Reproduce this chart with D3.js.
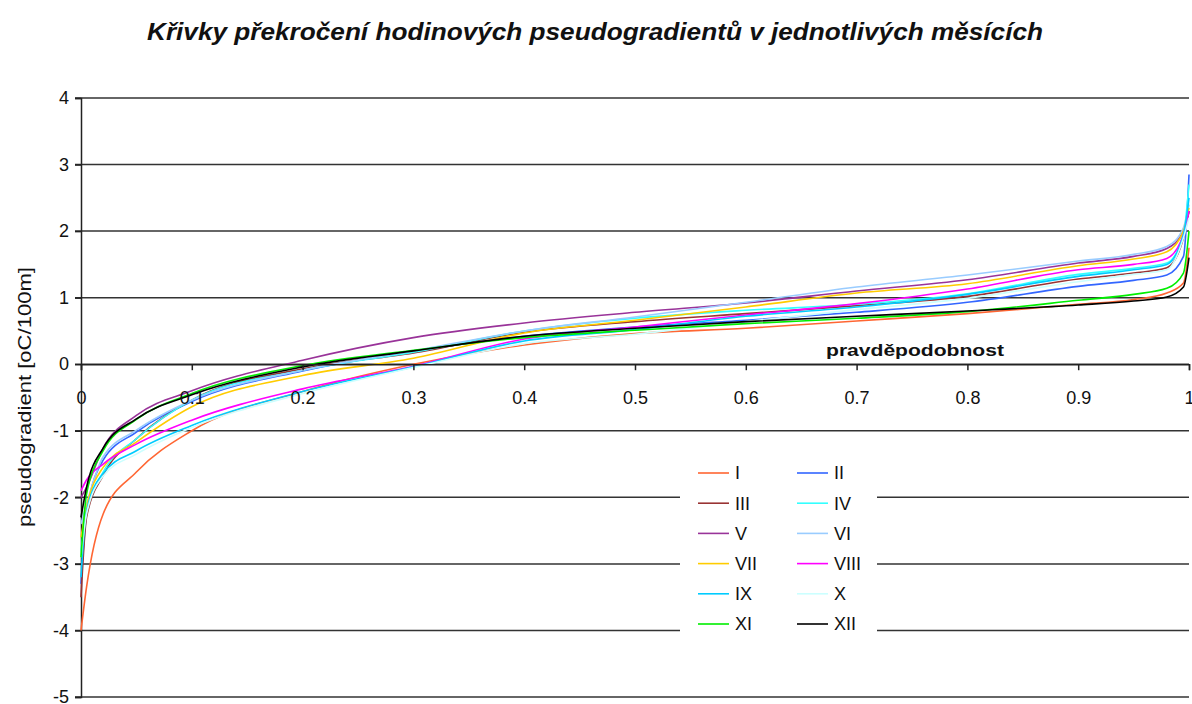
<!DOCTYPE html>
<html>
<head>
<meta charset="utf-8">
<script src="https://cdn.jsdelivr.net/npm/d3@7"></script>
<style>
  body { margin: 0; background: #fff; }
  text { font-family: "Liberation Sans", Arial, sans-serif; fill: #111; }
</style>
</head>
<body>
<svg width="1192" height="704"></svg>
<script>
// probability grid (x) shared by all months
var probs = [0, 0.005, 0.02, 0.05, 0.1, 0.2, 0.3, 0.4, 0.5, 0.6, 0.7, 0.8, 0.9, 0.95, 0.98, 0.995, 1];

var months = ["I", "II", "III", "IV", "V", "VI", "VII", "VIII", "IX", "X", "XI", "XII"];
var colors = ["#ff6633", "#3366ff", "#993333", "#33ffff", "#993399", "#99ccff",
              "#ffcc00", "#ff00ff", "#00ccff", "#ccffff", "#00ee00", "#000000"];

var sI    = [-4.0, -3.35, -2.25, -1.62, -1.0, -0.41, 0.0, 0.29, 0.46, 0.54, 0.65, 0.76, 0.9, 0.97, 1.07, 1.22, 1.75];
var sII   = [-3.3, -2.25, -1.44, -1.02, -0.56, -0.1, 0.19, 0.42, 0.56, 0.66, 0.78, 0.93, 1.17, 1.26, 1.34, 1.62, 2.85];
var sIII  = [-3.5, -2.3, -1.67, -1.12, -0.54, -0.07, 0.17, 0.48, 0.64, 0.76, 0.88, 1.02, 1.28, 1.37, 1.45, 1.9, 2.3];
var sIV   = [-2.8, -2.2, -1.62, -1.12, -0.54, -0.09, 0.18, 0.5, 0.69, 0.81, 0.9, 1.06, 1.35, 1.44, 1.52, 1.95, 2.7];
var sV    = [-2.0, -1.85, -1.26, -0.77, -0.4, 0.06, 0.4, 0.62, 0.78, 0.92, 1.1, 1.27, 1.52, 1.62, 1.74, 2.0, 2.3];
var sVI   = [-2.4, -2.1, -1.39, -0.99, -0.54, -0.09, 0.2, 0.5, 0.71, 0.93, 1.16, 1.34, 1.55, 1.65, 1.77, 2.05, 2.4];
var sVII  = [-2.6, -2.15, -1.55, -1.17, -0.64, -0.17, 0.09, 0.47, 0.66, 0.86, 1.07, 1.21, 1.48, 1.58, 1.69, 2.0, 2.35];
var sVIII = [-1.9, -1.74, -1.5, -1.2, -0.84, -0.37, -0.03, 0.38, 0.56, 0.74, 0.91, 1.13, 1.42, 1.5, 1.59, 1.95, 2.3];
var sIX   = [-3.2, -2.2, -1.64, -1.3, -0.92, -0.41, -0.04, 0.35, 0.52, 0.72, 0.86, 1.05, 1.32, 1.42, 1.5, 1.95, 2.5];
var sX    = [-2.9, -2.25, -1.68, -1.35, -0.95, -0.44, -0.05, 0.31, 0.45, 0.64, 0.82, 0.99, 1.24, 1.35, 1.42, 1.9, 2.2];
var sXI   = [-2.9, -1.95, -1.3, -0.83, -0.44, -0.02, 0.21, 0.4, 0.51, 0.61, 0.69, 0.79, 0.96, 1.05, 1.14, 1.37, 2.0];
var sXII  = [-2.3, -1.85, -1.26, -0.82, -0.46, -0.04, 0.2, 0.42, 0.54, 0.64, 0.72, 0.8, 0.89, 0.95, 1.01, 1.16, 1.6];

var series = [sI, sII, sIII, sIV, sV, sVI, sVII, sVIII, sIX, sX, sXI, sXII];

var xTicks = [0, 0.1, 0.2, 0.3, 0.4, 0.5, 0.6, 0.7, 0.8, 0.9, 1];
var yTicks = [4, 3, 2, 1, 0, -1, -2, -3, -4, -5];

var svg = d3.select("svg");

var x = d3.scaleLinear().domain([0, 1]).range([81, 1189]);
var y = d3.scaleLinear().domain([-5, 4]).range([697, 98]);

// title
svg.append("text")
    .attr("x", 595).attr("y", 40)
    .attr("text-anchor", "middle")
    .attr("textLength", 896).attr("lengthAdjust", "spacingAndGlyphs")
    .style("font-size", "23px").style("font-weight", "bold").style("font-style", "italic")
    .text("Křivky překročení hodinových pseudogradientů v jednotlivých měsících");

// horizontal grid lines
svg.append("g")
  .selectAll("line")
  .data(yTicks)
  .enter().append("line")
    .attr("x1", x(0) - 6).attr("x2", x(1))
    .attr("y1", function(d) { return y(d); })
    .attr("y2", function(d) { return y(d); })
    .attr("stroke", "#333").attr("stroke-width", 1.5);

// y axis (plain hyphen for minus, as in the original)
var yAxis = svg.append("g")
    .attr("transform", "translate(" + x(0) + ",0)")
    .call(d3.axisLeft(y).tickValues(yTicks).tickSize(6).tickFormat(function(d) { return String(d); }));
yAxis.select(".domain").attr("stroke", "#222").attr("stroke-width", 1.5);
yAxis.selectAll(".tick line").attr("stroke", "#222").attr("stroke-width", 1.5);
yAxis.selectAll(".tick text")
    .attr("x", -12)
    .style("font-size", "18px").style("font-family", "Liberation Sans, Arial, sans-serif")
    .attr("fill", "#111");

svg.append("text")
    .attr("transform", "translate(31,397) rotate(-90)")
    .attr("text-anchor", "middle")
    .attr("textLength", 260).attr("lengthAdjust", "spacingAndGlyphs")
    .style("font-size", "19px")
    .text("pseudogradient [oC/100m]");

// curves
var line = d3.line()
    .x(function(d, i) { return x(probs[i]); })
    .y(function(d) { return y(d); })
    .curve(d3.curveMonotoneX);

svg.append("g")
  .selectAll("path")
  .data(series)
  .enter().append("path")
    .attr("d", line)
    .attr("fill", "none")
    .attr("stroke", function(d, i) { return colors[i]; })
    .attr("stroke-width", 1.6);

// x axis at y = 0
var xAxis = svg.append("g")
    .attr("transform", "translate(0," + y(0) + ")")
    .call(d3.axisBottom(x).tickValues(xTicks).tickSize(6).tickPadding(21)
      .tickFormat(function(d) { return String(d); }));
xAxis.select(".domain").attr("stroke", "#222").attr("stroke-width", 1.5);
xAxis.selectAll(".tick line").attr("stroke", "#222").attr("stroke-width", 1.5);
xAxis.selectAll(".tick text")
    .style("font-size", "18px").style("font-family", "Liberation Sans, Arial, sans-serif")
    .attr("fill", "#111");

svg.append("text")
    .attr("x", 826).attr("y", 356)
    .attr("textLength", 178).attr("lengthAdjust", "spacingAndGlyphs")
    .style("font-size", "17px").style("font-weight", "bold")
    .text("pravděpodobnost");

// legend
var legend = svg.append("g").attr("transform", "translate(680,455)");
legend.append("rect")
    .attr("width", 197).attr("height", 185)
    .attr("fill", "#fff");

var item = legend.selectAll("g.item")
  .data(months)
  .enter().append("g")
    .attr("class", "item")
    .attr("transform", function(d, i) {
      return "translate(" + (i % 2 === 0 ? 18 : 117) + "," + (18 + Math.floor(i / 2) * 30.2) + ")";
    });

item.append("line")
    .attr("x1", 0).attr("x2", 31)
    .attr("stroke", function(d, i) { return colors[i]; })
    .attr("stroke-width", 1.6);

item.append("text")
    .attr("x", 37).attr("dy", "0.35em")
    .style("font-size", "18px")
    .text(function(d) { return d; });
</script>
</body>
</html>
